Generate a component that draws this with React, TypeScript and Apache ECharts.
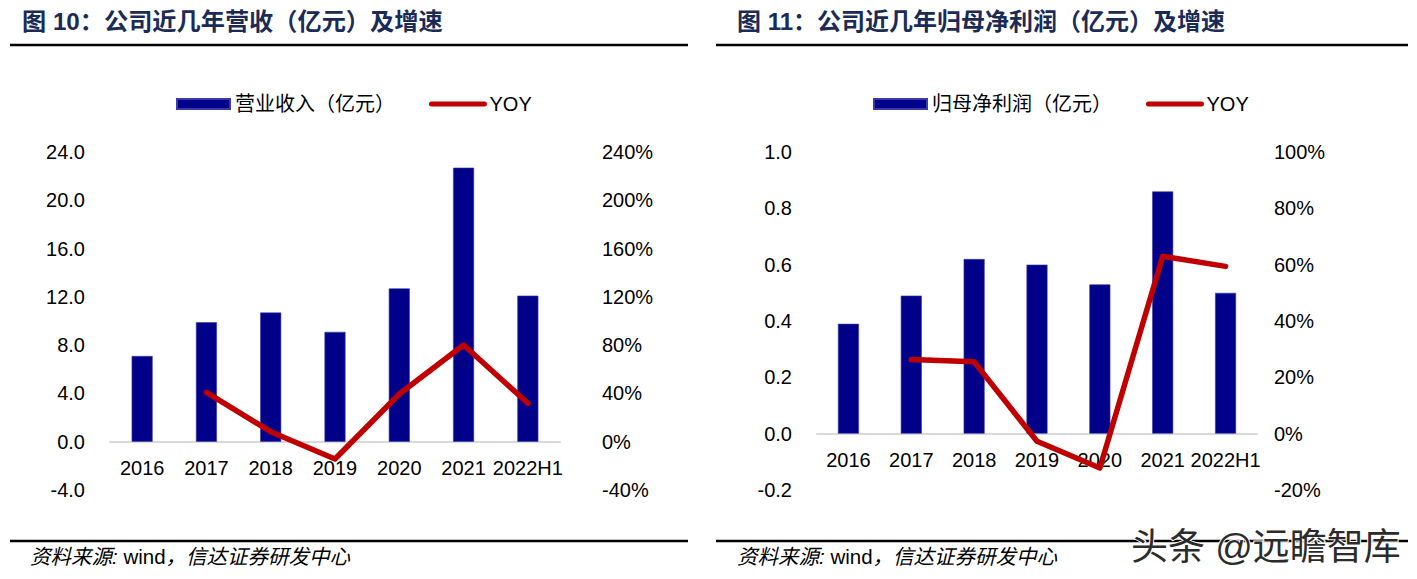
import React, { useEffect, useRef } from "react";
import * as echarts from "echarts";

const categories = ["2016", "2017", "2018", "2019", "2020", "2021", "2022H1"];
const revenue = [7.1, 9.9, 10.7, 9.1, 12.7, 22.7, 12.1];
const revenueYoy = [null, 40.9, 8.3, -14.3, 39.5, 80.1, 31.8];
const profit = [0.39, 0.49, 0.62, 0.6, 0.53, 0.86, 0.5];
const profitYoy = [null, 26.3, 25.5, -2.7, -12.2, 63.0, 59.4];

const leftTitle = "图 10：公司近几年营收（亿元）及增速";
const rightTitle = "图 11：公司近几年归母净利润（亿元）及增速";
const sourceA = "资料来源: ";
const sourceB = "wind";
const sourceC = "，信达证券研发中心";
const watermark = "头条 @远瞻智库";
const revName = "营业收入（亿元）";
const profName = "归母净利润（亿元）";
const yoyName = "YOY";

const FONT = "'Liberation Sans', Arial, 'Noto Sans CJK SC', sans-serif";
const BAR = "#000088";
const LINE = "#C00000";

export default function App() {
  const ref = useRef<HTMLDivElement>(null);
  useEffect(() => {
    if (!ref.current) return;
    const chart = echarts.init(ref.current, null, { renderer: "svg" });
    const axisLabel = { color: "#000", fontSize: 20, fontFamily: FONT };
    const xAxisBase = (gi: number, margin: number) => ({
      type: "category",
      gridIndex: gi,
      data: categories,
      axisLine: { show: true, onZero: true, lineStyle: { color: "#d9d9d9", width: 2 } },
      axisTick: { show: false },
      axisLabel: { ...axisLabel, margin, interval: 0 },
    });
    const yBase = (gi: number, min: number, max: number, interval: number, pos: string, margin: number, fmt: (v: number) => string) => ({
      type: "value",
      gridIndex: gi,
      min,
      max,
      interval,
      position: pos,
      splitLine: { show: false },
      axisLine: { show: false },
      axisTick: { show: false },
      axisLabel: { ...axisLabel, margin, formatter: fmt },
    });
    const fix1 = (v: number) => (Math.round(v * 10) / 10).toFixed(1);
    const pct = (v: number) => Math.round(v) + "%";
    const legendBase = (left: number, barName: string) => ({
      left,
      top: 89,
      itemWidth: 53,
      itemHeight: 10,
      itemGap: 34,
      data: [
        { name: barName, icon: "rect" },
        { name: yoyName, itemStyle: { opacity: 0 }, lineStyle: { width: 5, cap: "round", color: LINE } },
      ],
      textStyle: { color: "#000", fontSize: 20, fontFamily: FONT },
      selectedMode: false,
    });
    const lineSeries = (xi: number, yi: number, data: (number | null)[]) => ({
      name: yoyName,
      type: "line",
      xAxisIndex: xi,
      yAxisIndex: yi,
      data,
      symbol: "none",
      lineStyle: { color: LINE, width: 5.5, cap: "round", join: "round" },
      itemStyle: { color: LINE },
      z: 5,
    });
    const barSeries = (name: string, xi: number, yi: number, data: number[]) => ({
      name,
      type: "bar",
      xAxisIndex: xi,
      yAxisIndex: yi,
      data,
      barWidth: 21,
      itemStyle: { color: BAR, borderColor: "#3a3aa8", borderWidth: 0.6 },
    });
    const text = (x: number, y: number, t: string, style: any) => ({
      type: "text",
      x,
      y,
      style: { text: t, fontFamily: FONT, verticalAlign: "middle", ...style },
    });
    const source = (x: number, y: number) => ({
      type: "text",
      x,
      y,
      style: {
        text: `{a|${sourceA}}{b|${sourceB}}{a|${sourceC}}`,
        verticalAlign: "middle",
        rich: {
          a: { fontSize: 20.5, fontStyle: "italic", fontFamily: FONT, fill: "#000", color: "#000" },
          b: { fontSize: 20.5, fontFamily: FONT, fill: "#000", color: "#000" },
        },
      },
    });
    const hline = (x1: number, x2: number, y: number) => ({
      type: "line",
      shape: { x1, y1: y, x2, y2: y },
      style: { stroke: "#000", lineWidth: 2.5 },
    });
    chart.setOption({
      animation: false,
      textStyle: { fontFamily: FONT },
      grid: [
        { left: 110, top: 152, width: 450, height: 338 },
        { left: 817, top: 152, width: 440, height: 338 },
      ],
      xAxis: [xAxisBase(0, -32), xAxisBase(1, -40)],
      yAxis: [
        yBase(0, -4, 24, 4, "left", 25, fix1),
        yBase(0, -40, 240, 40, "right", 42, pct),
        yBase(1, -0.2, 1.0, 0.2, "left", 25, fix1),
        yBase(1, -20, 100, 20, "right", 17, pct),
      ],
      legend: [legendBase(171, revName), legendBase(868, profName)],
      series: [
        barSeries(revName, 0, 0, revenue),
        lineSeries(0, 1, revenueYoy),
        barSeries(profName, 1, 2, profit),
        lineSeries(1, 3, profitYoy),
      ],
      graphic: [
        text(22, 21, leftTitle, { fontSize: 24.2, fontWeight: "bold", fill: "#1a2b57" }),
        text(737, 21, rightTitle, { fontSize: 24, fontWeight: "bold", fill: "#1a2b57" }),
        hline(10, 688, 45),
        hline(716, 1408, 45),
        hline(10, 688, 541),
        hline(716, 1408, 541),
        source(30, 556),
        source(737, 556),
        text(1131, 547, watermark, { fontSize: 37, fill: "#2b2b2b", stroke: "#fff", lineWidth: 2 }),
      ],
    });
    return () => chart.dispose();
  }, []);
  return (
    <div
      ref={ref}
      style={{ position: "fixed", left: 0, top: 0, width: 1417, height: 579, background: "#fff" }}
    />
  );
}
